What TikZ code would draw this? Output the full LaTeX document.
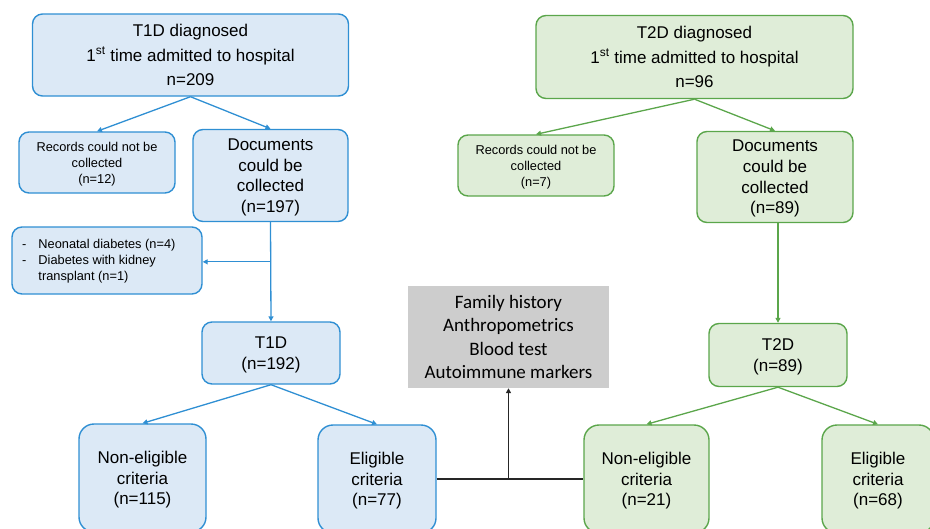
\documentclass[tikz,border=0pt]{standalone}
\usepackage{fontspec}
\setmainfont{Liberation Sans}
\newfontfamily\grayfont{Carlito}
\usetikzlibrary{arrows.meta,calc}
\definecolor{bstroke}{HTML}{2F8FD3}
\definecolor{bfill}{HTML}{DCE9F6}
\definecolor{gstroke}{HTML}{5BA64B}
\definecolor{gfill}{HTML}{DFEDD8}
\definecolor{grayfill}{HTML}{CDCDCD}
\begin{document}
\begin{tikzpicture}[x=1pt,y=-1pt,
  box/.style={rounded corners=10pt,line width=1.4pt,inner sep=0pt,align=center,text depth=0pt},
  bluebox/.style={box,draw=bstroke,fill=bfill},
  greenbox/.style={box,draw=gstroke,fill=gfill},
  bigtxt/.style={font=\fontsize{17}{24.5}\selectfont},
  midtxt/.style={font=\fontsize{17}{20.7}\selectfont},
  smalltxt/.style={font=\fontsize{12.8}{16}\selectfont},
  barrow/.style={draw=bstroke,line width=1.3pt,-{Triangle[length=5pt,width=5pt]}},
  garrow/.style={draw=gstroke,line width=1.3pt,-{Triangle[length=5pt,width=5pt]}},
  blarrow/.style={draw=black!85,line width=1.3pt,-{Triangle[length=5pt,width=5pt]}}]
\useasboundingbox (0,0) rectangle (930,528);
\clip (0,0) rectangle (930,528);
% T1D side
\node[bluebox,bigtxt,minimum width=316pt,minimum height=82pt] (t1) at (190.5,55)
  {T1D diagnosed\\1\textsuperscript{st} time admitted to hospital\\n=209};
\node[bluebox,smalltxt,minimum width=156pt,minimum height=61pt] (r1) at (97,162.5)
  {Records could not be\\collected\\(n=12)};
\node[bluebox,midtxt,minimum width=155pt,minimum height=92pt] (d1) at (270.5,175.5)
  {Documents\\could be\\collected\\(n=197)};
\node[bluebox,minimum width=190pt,minimum height=67pt] (neo) at (107,260.5) {};
\node[anchor=west,inner sep=0pt,smalltxt,align=left] (neotxt) at (22,261)
  {\begin{tabular}{@{}l@{\hspace{12pt}}l@{}}-&Neonatal diabetes (n=4)\\-&Diabetes with kidney\\&transplant (n=1)\end{tabular}};
\node[bluebox,midtxt,minimum width=138pt,minimum height=62pt] (t1d) at (271,353)
  {T1D\\(n=192)};
\node[bluebox,midtxt,rounded corners=15pt,minimum width=127pt,minimum height=108pt] (ne1) at (142.5,478)
  {Non-eligible\\criteria\\(n=115)};
\node[bluebox,midtxt,rounded corners=15pt,minimum width=118pt,minimum height=108pt] (el1) at (377,479)
  {Eligible\\criteria\\(n=77)};
% gray box
\node[fill=grayfill,inner sep=0pt,minimum width=201pt,minimum height=102pt,align=center,
  font=\grayfont\fontsize{19}{23.5}\selectfont] (gray) at (508.5,337)
  {Family history\\Anthropometrics\\Blood test\\Autoimmune markers};
% T2D side
\node[greenbox,bigtxt,minimum width=317pt,minimum height=83pt] (t2) at (694.5,57)
  {T2D diagnosed\\1\textsuperscript{st} time admitted to hospital\\n=96};
\node[greenbox,smalltxt,minimum width=156pt,minimum height=61pt] (r2) at (536,165.5)
  {Records could not be\\collected\\(n=7)};
\node[greenbox,midtxt,minimum width=156pt,minimum height=91pt] (d2) at (775,177)
  {Documents\\could be\\collected\\(n=89)};
\node[greenbox,midtxt,minimum width=138pt,minimum height=63pt] (t2d) at (778,355)
  {T2D\\(n=89)};
\node[greenbox,midtxt,rounded corners=15pt,minimum width=125pt,minimum height=108pt] (ne2) at (646.5,479)
  {Non-eligible\\criteria\\(n=21)};
\node[greenbox,midtxt,rounded corners=15pt,minimum width=112pt,minimum height=108pt] (el2) at (878,479)
  {Eligible\\criteria\\(n=68)};
% blue connectors
\draw[barrow] (t1.south) -- (r1.north);
\draw[barrow] (t1.south) -- (d1.north);
\draw[barrow] (d1.south) -- (t1d.north);
\coordinate (br1) at ($(d1.south)!0.4!(t1d.north)$);
\draw[barrow] (br1) -- (br1 -| neo.east);
\draw[barrow] (t1d.south) -- (ne1.north);
\draw[barrow] (t1d.south) -- (el1.north);
% green connectors
\draw[garrow] (t2.south) -- (r2.north);
\draw[garrow] (t2.south) -- (d2.north);
\draw[garrow] (t2d.north |- d2.south) -- (t2d.north);
\draw[garrow] (t2d.south) -- (ne2.north);
\draw[garrow] (t2d.south) -- (el2.north);
% black connectors
\coordinate (j) at (gray.south |- el1.east);
\draw[black!85,line width=1.3pt] (el1.east) -- (j) -- (ne2.west);
\draw[blarrow] (j) -- (gray.south);
\end{tikzpicture}
\end{document}
